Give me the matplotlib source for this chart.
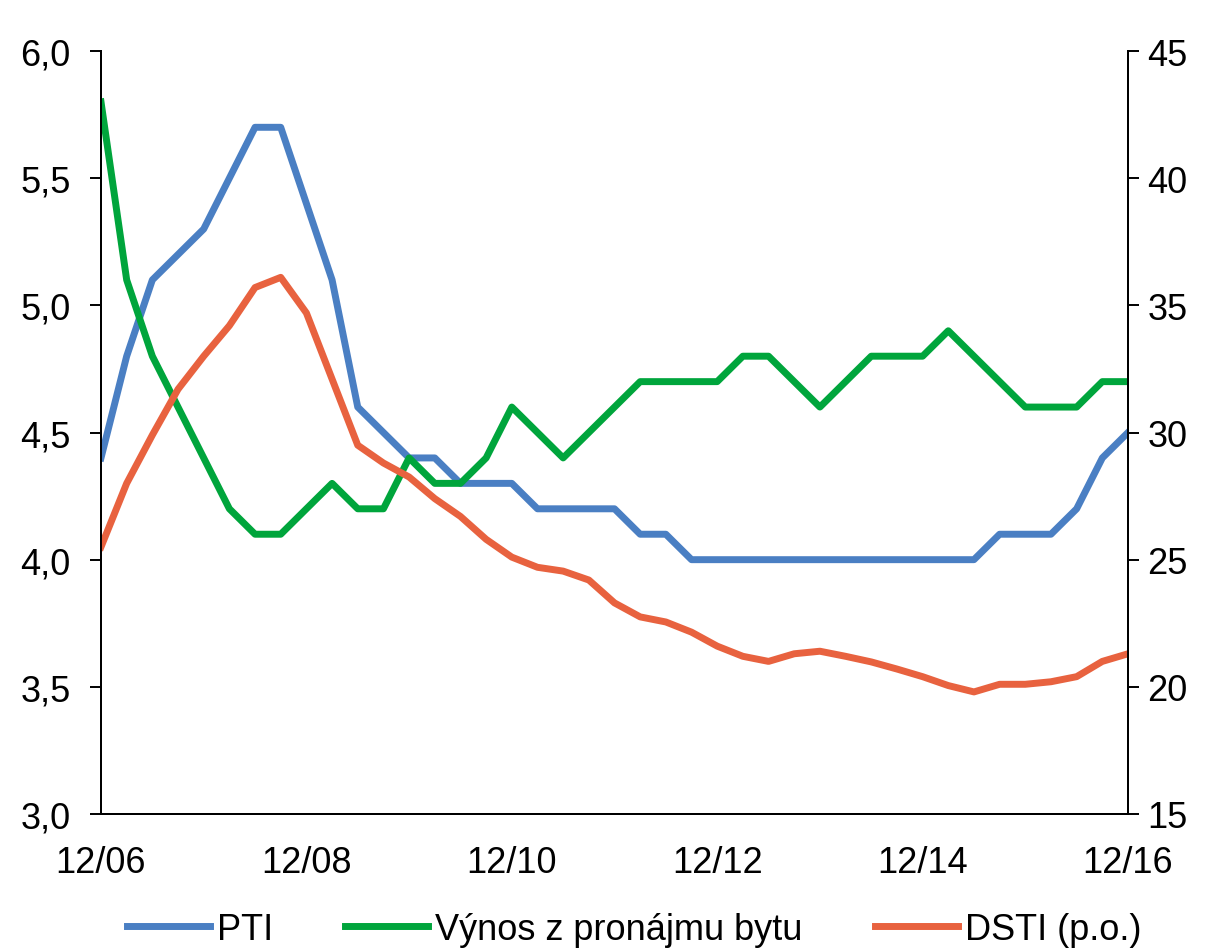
import matplotlib
matplotlib.use("Agg")
import matplotlib.pyplot as plt
from matplotlib import font_manager

names = {f.name for f in font_manager.fontManager.ttflist}
fam = ["Liberation Sans Narrow"] if "Liberation Sans Narrow" in names else ["Liberation Sans"]
plt.rcParams['font.family'] = fam + ["DejaVu Sans"]

# quarterly data 12/06 .. 12/16
pti = [4.4, 4.8, 5.1, 5.2, 5.3, 5.5, 5.7, 5.7, 5.4, 5.1,
       4.6, 4.5, 4.4, 4.4, 4.3, 4.3, 4.3, 4.2, 4.2, 4.2,
       4.2, 4.1, 4.1, 4.0, 4.0, 4.0, 4.0, 4.0, 4.0, 4.0,
       4.0, 4.0, 4.0, 4.0, 4.0, 4.1, 4.1, 4.1, 4.2, 4.4, 4.5]
vynos = [5.8, 5.1, 4.8, 4.6, 4.4, 4.2, 4.1, 4.1, 4.2, 4.3,
         4.2, 4.2, 4.4, 4.3, 4.3, 4.4, 4.6, 4.5, 4.4, 4.5,
         4.6, 4.7, 4.7, 4.7, 4.7, 4.8, 4.8, 4.7, 4.6, 4.7,
         4.8, 4.8, 4.8, 4.9, 4.8, 4.7, 4.6, 4.6, 4.6, 4.7, 4.7]
dsti = [25.5, 28.0, 29.9, 31.7, 33.0, 34.2, 35.7, 36.1, 34.7, 32.1,
        29.5, 28.8, 28.25, 27.4, 26.7, 25.8, 25.1, 24.7, 24.55, 24.2,
        23.3, 22.75, 22.55, 22.15, 21.6, 21.2, 21.0, 21.3, 21.4, 21.2,
        20.98, 20.7, 20.4, 20.05, 19.8, 20.1, 20.1, 20.2, 20.4, 21.0, 21.3]
xticklabels = ["12/06", "12/08", "12/10", "12/12", "12/14", "12/16"]
left_ticks = [3.0, 3.5, 4.0, 4.5, 5.0, 5.5, 6.0]
right_ticks = [15, 20, 25, 30, 35, 40, 45]

c_blue = "#4a7fc3"
c_green = "#00a53c"
c_red = "#e8623f"

fig = plt.figure(figsize=(12.08, 9.53), dpi=100)
ax = fig.add_axes([101/1208, 1-815/953, (1128-101)/1208, (815-52)/953])
ax2 = ax.twinx()

x = list(range(len(pti)))
lw = 5.0
l1, = ax.plot(x, pti, color=c_blue, lw=lw, label="PTI")
l2, = ax.plot(x, vynos, color=c_green, lw=lw, label="Výnos z pronájmu bytu")
l3, = ax2.plot(x, dsti, color=c_red, lw=lw, label="DSTI (p.o.)")

ax.set_xlim(0, 40)
ax.set_ylim(3.0, 6.0)
ax2.set_ylim(15, 45)
ax.set_xticks(range(0, 41, 8))
ax.set_xticklabels(xticklabels)
ax.set_yticks(left_ticks)
ax.set_yticklabels([f"{v:.1f}".replace(".", ",") for v in left_ticks])
ax2.set_yticks(right_ticks)
ax2.set_yticklabels([str(v) for v in right_ticks])

fs = 26
for a in (ax, ax2):
    for s in a.spines.values():
        s.set_linewidth(1.4)
        s.set_color("#000000")
    a.spines['top'].set_visible(False)
ax.tick_params(axis='y', direction='out', length=8, width=1.4, labelsize=fs, pad=14)
ax2.tick_params(axis='y', direction='out', length=8, width=1.4, labelsize=fs, pad=6)
ax.tick_params(axis='x', length=0, labelsize=fs, pad=22)

fig.legend([l1, l2, l3], [l1.get_label(), l2.get_label(), l3.get_label()],
           loc='center', bbox_to_anchor=(0.525, 0.024), ncol=3, frameon=False,
           fontsize=fs, handlelength=2.3, handletextpad=0.2, columnspacing=2.0)

fig.savefig("out.png", dpi=100)
